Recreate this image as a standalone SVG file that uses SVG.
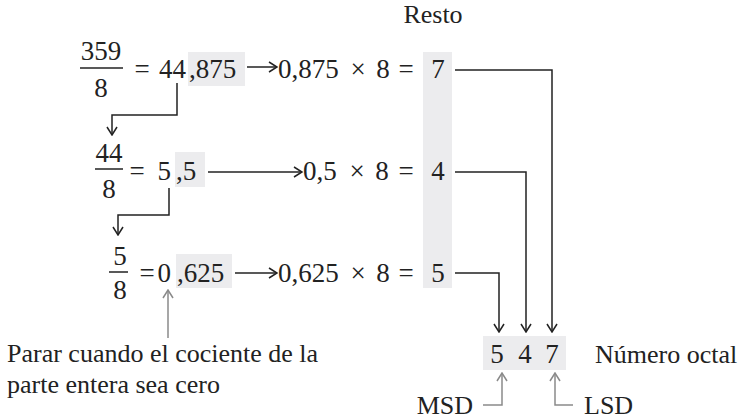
<svg xmlns="http://www.w3.org/2000/svg" width="744" height="420" viewBox="0 0 744 420" font-family="'Liberation Serif', 'Times New Roman', Times, serif">
<style>
  text { font-family: 'Liberation Serif', 'Times New Roman', Times, serif; fill: #222; }
  .m { font-size: 27px; }
  .t { font-size: 26px; }
  .c { text-anchor: middle; }
  .e { text-anchor: end; }
  .shade { fill: #ececee; }
  .ln { fill: none; stroke: #222; stroke-width: 1.5; }
  .gl { fill: none; stroke: #8a8a8a; stroke-width: 1.5; }
</style>
<defs>
  <marker id="ah" viewBox="0 0 10 12" refX="9" refY="6" markerWidth="10" markerHeight="12" markerUnits="userSpaceOnUse" orient="auto">
    <path d="M1,1 L9,6 L1,11" fill="none" stroke="#222" stroke-width="1.5"/>
  </marker>
  <marker id="ahg" viewBox="0 0 10 12" refX="9" refY="6" markerWidth="10" markerHeight="12" markerUnits="userSpaceOnUse" orient="auto">
    <path d="M1,1 L9,6 L1,11" fill="none" stroke="#8a8a8a" stroke-width="1.5"/>
  </marker>
</defs>

<g id="shading">
  <rect class="shade" x="188" y="52" width="57" height="34"/>
  <rect class="shade" x="175" y="152" width="30" height="35"/>
  <rect class="shade" x="176" y="254" width="56" height="34"/>
  <rect class="shade" x="423" y="52" width="29" height="236"/>
  <rect class="shade" x="483" y="336" width="83" height="34"/>
</g>

<g id="resto"><text class="t c" x="433" y="23">Resto</text></g>

<g id="row1">
  <text class="m c" x="101" y="60">359</text>
  <line class="ln" x1="80" y1="68" x2="123" y2="68" stroke-width="1.2"/>
  <text class="m c" x="101" y="97">8</text>
  <text class="m c" x="142" y="78">=</text>
  <text class="m e" x="186" y="78">44</text>
  <text class="m" x="189" y="78">,875</text>
  <text class="m" x="278" y="78">0,875</text>
  <text class="m c" x="358" y="78">×</text>
  <text class="m c" x="383" y="78">8</text>
  <text class="m c" x="406" y="78">=</text>
  <text class="m c" x="438" y="78">7</text>
</g>

<g id="row2">
  <text class="m c" x="109" y="162">44</text>
  <line class="ln" x1="95" y1="169" x2="123" y2="169" stroke-width="1.2"/>
  <text class="m c" x="109" y="198">8</text>
  <text class="m c" x="137" y="180">=</text>
  <text class="m e" x="171" y="180">5</text>
  <text class="m" x="176" y="180">,5</text>
  <text class="m" x="303" y="180">0,5</text>
  <text class="m c" x="357" y="180">×</text>
  <text class="m c" x="382" y="180">8</text>
  <text class="m c" x="406" y="180">=</text>
  <text class="m c" x="438" y="180">4</text>
</g>

<g id="row3">
  <text class="m c" x="120" y="265">5</text>
  <line class="ln" x1="109" y1="272" x2="128" y2="272" stroke-width="1.2"/>
  <text class="m c" x="120" y="299">8</text>
  <text class="m c" x="147" y="282">=</text>
  <text class="m e" x="171" y="282">0</text>
  <text class="m" x="177" y="282">,625</text>
  <text class="m" x="278" y="282">0,625</text>
  <text class="m c" x="358" y="282">×</text>
  <text class="m c" x="383" y="282">8</text>
  <text class="m c" x="406" y="282">=</text>
  <text class="m c" x="438" y="282">5</text>
</g>

<g id="result">
  <text class="m c" x="497" y="363">5</text>
  <text class="m c" x="525" y="363">4</text>
  <text class="m c" x="552" y="363">7</text>
  <text class="t" x="595" y="363">Número octal</text>
</g>

<g id="labels">
  <text class="t" x="7" y="362">Parar cuando el cociente de la</text>
  <text class="t" x="7" y="393">parte entera sea cero</text>
  <text class="t e" x="473" y="414">MSD</text>
  <text class="t" x="584" y="414">LSD</text>
</g>

<g id="connectors">
  <line class="ln" x1="247" y1="67" x2="277" y2="67" marker-end="url(#ah)"/>
  <line class="ln" x1="208" y1="172" x2="302" y2="172" marker-end="url(#ah)"/>
  <line class="ln" x1="235" y1="273" x2="277" y2="273" marker-end="url(#ah)"/>
  <polyline class="ln" points="177,83 177,115 112,115 112,135" marker-end="url(#ah)"/>
  <polyline class="ln" points="169,188 169,215 118,215 118,235" marker-end="url(#ah)"/>
  <polyline class="ln" points="455,70 552,70 552,332" marker-end="url(#ah)"/>
  <polyline class="ln" points="455,172 526,172 526,332" marker-end="url(#ah)"/>
  <polyline class="ln" points="455,273 499,273 499,332" marker-end="url(#ah)"/>
  <line class="gl" x1="168" y1="338" x2="168" y2="290" marker-end="url(#ahg)"/>
  <polyline class="gl" points="483,405 502,405 502,373" marker-end="url(#ahg)"/>
  <polyline class="gl" points="573,405 555,405 555,373" marker-end="url(#ahg)"/>
</g>
</svg>
